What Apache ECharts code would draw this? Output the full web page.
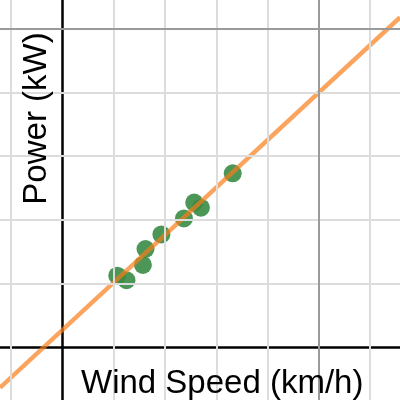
<!DOCTYPE html>
<html>
<head>
<meta charset="utf-8">
<script src="https://cdn.jsdelivr.net/npm/echarts@6/dist/echarts.min.js"></script>
<style>html,body{margin:0;padding:0;background:#fff}#c{width:400px;height:400px}</style>
</head>
<body>
<div id="c"></div>
<script>
// Data (grid units: one minor grid cell = 1)
const windSpeed = [1.07, 1.25, 1.57, 1.62, 1.93, 2.37, 2.57, 2.70, 3.32];
const power     = [1.12, 1.05, 1.29, 1.54, 1.77, 2.02, 2.27, 2.19, 2.73];
const fitSlope = 0.747;
const fitIntercept = 0.267;
const xLabel = 'Wind Speed (km/h)';
const yLabel = 'Power (kW)';
const minorX = [-1, 1, 2, 3, 4, 6];
const majorX = [5];
const minorY = [1, 2, 3, 4];
const majorY = [5];

const XMIN = -1.215, XMAX = 6.58, YMIN = -0.834, YMAX = 5.455;

const chart = echarts.init(document.getElementById('c'), null, {renderer: 'canvas'});
const pts = windSpeed.map((x, i) => [x, power[i]]);
const fitLine = [XMIN, XMAX].map(x => [x, fitIntercept + fitSlope * x]);

function ml(vals, key, color) {
  return vals.map(v => ({[key]: v, lineStyle: {color: color, width: 2, type: 'solid'}}));
}

chart.setOption({
  animation: false,
  grid: {left: 0, right: 0, top: 0, bottom: 0},
  xAxis: {
    type: 'value', min: XMIN, max: XMAX,
    axisLine: {show: true, onZero: true, lineStyle: {color: '#000', width: 2.5}},
    axisTick: {show: false}, axisLabel: {show: false}, splitLine: {show: false}
  },
  yAxis: {
    type: 'value', min: YMIN, max: YMAX,
    axisLine: {show: true, onZero: true, lineStyle: {color: '#000', width: 2.5}},
    axisTick: {show: false}, axisLabel: {show: false}, splitLine: {show: false}
  },
  series: [
    {
      type: 'line', data: [], silent: true, z: 0,
      markLine: {
        silent: true, symbol: ['none', 'none'], label: {show: false},
        animation: false,
        data: [].concat(
          ml(minorX, 'xAxis', '#dcdcdc'),
          ml(minorY, 'yAxis', '#dcdcdc'),
          ml(majorX, 'xAxis', '#9a9a9a'),
          ml(majorY, 'yAxis', '#9a9a9a')
        )
      }
    },
    {
      type: 'scatter', data: pts, symbol: 'circle', symbolSize: 18, z: 3,
      itemStyle: {color: '#388c46', opacity: 0.9}
    },
    {
      type: 'line', data: fitLine, showSymbol: false, symbol: 'none', z: 4,
      lineStyle: {color: '#fa7e19', width: 4.5, opacity: 0.7}
    }
  ],
  graphic: [
    {
      type: 'text', left: 81, top: 367, z: 10,
      style: {text: xLabel, font: '33px "Liberation Sans", Arial, sans-serif', fill: '#000', verticalAlign: 'middle'}
    },
    {
      type: 'text', x: 37, y: 118.5, rotation: Math.PI / 2, z: 10,
      style: {text: yLabel, font: '33px "Liberation Sans", Arial, sans-serif', fill: '#000', align: 'center', verticalAlign: 'middle'}
    }
  ]
});
</script>
</body>
</html>
